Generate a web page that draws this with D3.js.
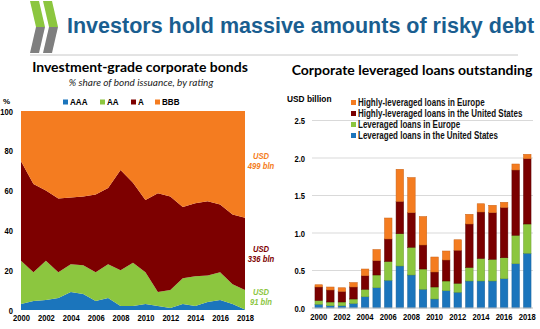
<!DOCTYPE html>
<html><head><meta charset="utf-8">
<script src="https://cdn.jsdelivr.net/npm/d3@7"></script>
<style>
body{margin:0;background:#fff;}
svg{display:block;}
</style></head>
<body>
<svg id="c" width="540" height="329"></svg>
<script>
// ---- Left chart data (% share of bond issuance) ----
const years = d3.range(2000, 2019);
const shareAAA = [3,4.5,5,6,9,8,4.5,6,2,2,3,2,1,3,2,4,5,3,0.3];
const shareAA  = [21.7,14.5,19.7,13,14,14.5,14.5,17,18,21.7,16,7,9,13,15,13.3,14,10,9.7];
const shareA   = [50,44.3,35.3,37,33.5,34.5,39,38.3,50.3,40.3,36.3,49.7,47,35.7,36.7,37.4,34,35,36.3];
const shareBBB = [25.3,36.7,40,44,43.5,43,42,38.7,29.7,36,44.7,41.3,43,48.3,46.3,45.3,47,52,53.7];
const ratingKeys = ["AAA","AA","A","BBB"];
const leftTicks = [0,20,40,60,80,100];
const xTickYears = [2000,2002,2004,2006,2008,2010,2012,2014,2016,2018];

// ---- Right chart data (values as drawn on the axis) ----
const loanUS   = [0.05,0.03,0.03,0.06,0.15,0.27,0.37,0.56,0.44,0.25,0.12,0.23,0.21,0.36,0.36,0.36,0.39,0.59,0.73];
const loanEU   = [0.05,0.05,0.05,0.06,0.10,0.17,0.25,0.43,0.37,0.27,0.16,0.13,0.12,0.18,0.30,0.29,0.28,0.38,0.39];
const hiLoanUS = [0.18,0.16,0.14,0.16,0.18,0.19,0.30,0.43,0.46,0.32,0.20,0.28,0.44,0.58,0.62,0.62,0.67,0.87,0.87];
const hiLoanEU = [0.03,0.04,0.05,0.06,0.09,0.15,0.28,0.43,0.47,0.38,0.20,0.12,0.14,0.13,0.11,0.10,0.07,0.08,0.06];
const loanKeys = ["Leveraged loans in the United States","Leveraged loans in Europe","Highly-leveraged loans in the United States","Highly-leveraged loans in Europe"];
const rightTicks = [0,0.5,1.0,1.5,2.0,2.5];

const cBlue="#1b75bc", cGreen="#8cc63f", cOrange="#f47c20";
const svg = d3.select("#c");
const sans = '"Liberation Sans",Arial,sans-serif';

function condense(sel, f){
  sel.each(function(){
    const len = this.getComputedTextLength();
    d3.select(this).attr("textLength", len*f).attr("lengthAdjust","spacingAndGlyphs");
  });
}
// narrow text placed with a horizontal scale transform
function narrowText(parent, x, y, txt, size, f, anchor){
  return parent.append("text").attr("transform",`translate(${x},${y}) scale(${f},1)`)
    .attr("text-anchor",anchor||"start").text(txt)
    .attr("font-family",sans).attr("font-weight","bold").attr("font-size",size);
}

// ---- Header ----
const logo = svg.append("g");
[[30,1],[43,1]].forEach(([x0,y0])=>{
  logo.append("path").attr("d",`M${x0},${y0} L${x0+9},${y0} L${x0+15},${y0+26} L${x0+6},${y0+26} Z`).attr("fill","#8cc63f");
  logo.append("path").attr("d",`M${x0+6},${y0+26} L${x0+15},${y0+26} L${x0+9},${y0+52} L${x0},${y0+52} Z`).attr("fill","#7f7f7f");
});
svg.append("text").attr("x",67).attr("y",33).text("Investors hold massive amounts of risky debt")
  .attr("font-family",sans).attr("font-weight","bold").attr("font-size",21.5).attr("fill","#1a5e90");
svg.append("line").attr("x1",30).attr("x2",518).attr("y1",55).attr("y2",55).attr("stroke","#c8c8c8").attr("stroke-width",1);

// ---- Left chart ----
const lx = d3.scaleLinear().domain([2000,2018]).range([21,245]);
const ly = d3.scaleLinear().domain([0,100]).range([310,111]);
const rows = years.map((y,i)=>({year:y,AAA:shareAAA[i],AA:shareAA[i],A:shareA[i],BBB:shareBBB[i]}));
const stackL = d3.stack().keys(ratingKeys)(rows);
const lColors = {AAA:cBlue,AA:cGreen,A:"#7d0000",BBB:cOrange};
const area = d3.area().x(d=>lx(d.data.year)).y0(d=>ly(d[0])).y1(d=>ly(d[1]));
svg.append("g").selectAll("path").data(stackL).join("path").attr("d",area).attr("fill",d=>lColors[d.key]);

const lAxisY = svg.append("g").attr("transform","translate(21,0)")
  .call(d3.axisLeft(ly).tickValues(leftTicks).tickSize(0).tickPadding(8));
lAxisY.select(".domain").remove();
lAxisY.selectAll("text").attr("font-family",sans).attr("font-weight","bold").attr("font-size",9.5).attr("fill","#000").call(condense,0.8);
const lAxisX = svg.append("g").attr("transform","translate(0,310)")
  .call(d3.axisBottom(lx).tickValues(xTickYears).tickFormat(d3.format("d")).tickSize(0).tickPadding(4));
lAxisX.select(".domain").remove();
lAxisX.selectAll("text").attr("font-family",sans).attr("font-weight","bold").attr("font-size",9.5).attr("fill","#000").call(condense,0.8);
svg.append("text").attr("x",3).attr("y",104).text("%").attr("font-family",sans).attr("font-weight","bold").attr("font-size",8);

svg.append("text").attr("x",140).attr("y",72).attr("text-anchor","middle").text("Investment-grade corporate bonds")
  .attr("font-family","Lato,'Open Sans',sans-serif").attr("font-weight","bold").attr("font-size",14).attr("fill","#000");
svg.append("text").attr("x",141).attr("y",86).attr("text-anchor","middle").text("% share of bond issuance, by rating")
  .attr("font-family","Lato,'Open Sans',sans-serif").attr("font-style","italic").attr("font-size",10).attr("fill","#222");

// legend left
const legL = [{k:"AAA",x:63},{k:"AA",x:100},{k:"A",x:131},{k:"BBB",x:155}];
legL.forEach(o=>{
  svg.append("rect").attr("x",o.x).attr("y",99.5).attr("width",5).attr("height",5).attr("fill",lColors[o.k]);
  narrowText(svg, o.x+7, 105, o.k, 9.5, 0.85);
});

// end labels
const endLabels = [
  {t1:"USD",t2:"499 bln",y:156,c:cOrange},
  {t1:"USD",t2:"336 bln",y:249,c:"#7d0000"},
  {t1:"USD",t2:"91 bln",y:292,c:cGreen}];
endLabels.forEach(o=>{
  [o.t1,o.t2].forEach((t,j)=>{
    narrowText(svg, 261, o.y+3+j*10, t, 9, 0.85, "middle").attr("font-style","italic").attr("fill",o.c);
  });
});

// ---- Right chart ----
const rx = d3.scaleBand().domain(years).range([313,533]).paddingInner(0.35).paddingOuter(0.17);
const ry = d3.scaleLinear().domain([0,2.5]).range([308,120.5]);
svg.append("g").selectAll("line").data(rightTicks.filter(d=>d>0)).join("line")
  .attr("x1",312).attr("x2",533).attr("y1",d=>ry(d)).attr("y2",d=>ry(d)).attr("stroke","#d9d9d9").attr("stroke-width",1);
const rrows = years.map((y,i)=>({year:y,[loanKeys[0]]:loanUS[i],[loanKeys[1]]:loanEU[i],[loanKeys[2]]:hiLoanUS[i],[loanKeys[3]]:hiLoanEU[i]}));
const stackR = d3.stack().keys(loanKeys)(rrows);
const rColors = [cBlue,cGreen,"#7a0000",cOrange];
const rStroke = ["#155f99","#6f9e33","#5a0000","#c9651a"];
svg.append("g").selectAll("g").data(stackR).join("g")
  .attr("fill",(d,i)=>rColors[i]).attr("stroke",(d,i)=>rStroke[i]).attr("stroke-width",0.5)
  .selectAll("rect").data(d=>d).join("rect")
  .attr("x",d=>rx(d.data.year)).attr("width",rx.bandwidth())
  .attr("y",d=>ry(d[1])).attr("height",d=>ry(d[0])-ry(d[1]));
svg.append("line").attr("x1",312).attr("x2",533).attr("y1",308).attr("y2",308).attr("stroke","#bfbfbf");

const rAxisY = svg.append("g").attr("transform","translate(312,0)")
  .call(d3.axisLeft(ry).tickValues(rightTicks).tickFormat(d3.format(".1f")).tickSize(0).tickPadding(7));
rAxisY.select(".domain").remove();
rAxisY.selectAll("text").attr("font-family",sans).attr("font-weight","bold").attr("font-size",9.5).attr("fill","#000").call(condense,0.8);
const rAxisX = svg.append("g").attr("transform","translate(0,308)")
  .call(d3.axisBottom(rx).tickValues(xTickYears).tickSize(0).tickPadding(5));
rAxisX.select(".domain").remove();
rAxisX.selectAll("text").attr("font-family",sans).attr("font-weight","bold").attr("font-size",9.5).attr("fill","#000").call(condense,0.8);

svg.append("text").attr("x",412).attr("y",75).attr("text-anchor","middle").text("Corporate leveraged loans outstanding")
  .attr("font-family","Lato,'Open Sans',sans-serif").attr("font-weight","bold").attr("font-size",14).attr("fill","#000");
narrowText(svg, 287, 102, "USD billion", 9.5, 0.88);

const legR = [3,2,1,0];
legR.forEach((k,j)=>{
  const y = 103 + j*11;
  svg.append("rect").attr("x",351).attr("y",y-3).attr("width",5).attr("height",5).attr("fill",rColors[k]);
  narrowText(svg, 358, y+3, loanKeys[k], 10, 0.8).attr("fill","#111");
});
</script>
</body></html>
